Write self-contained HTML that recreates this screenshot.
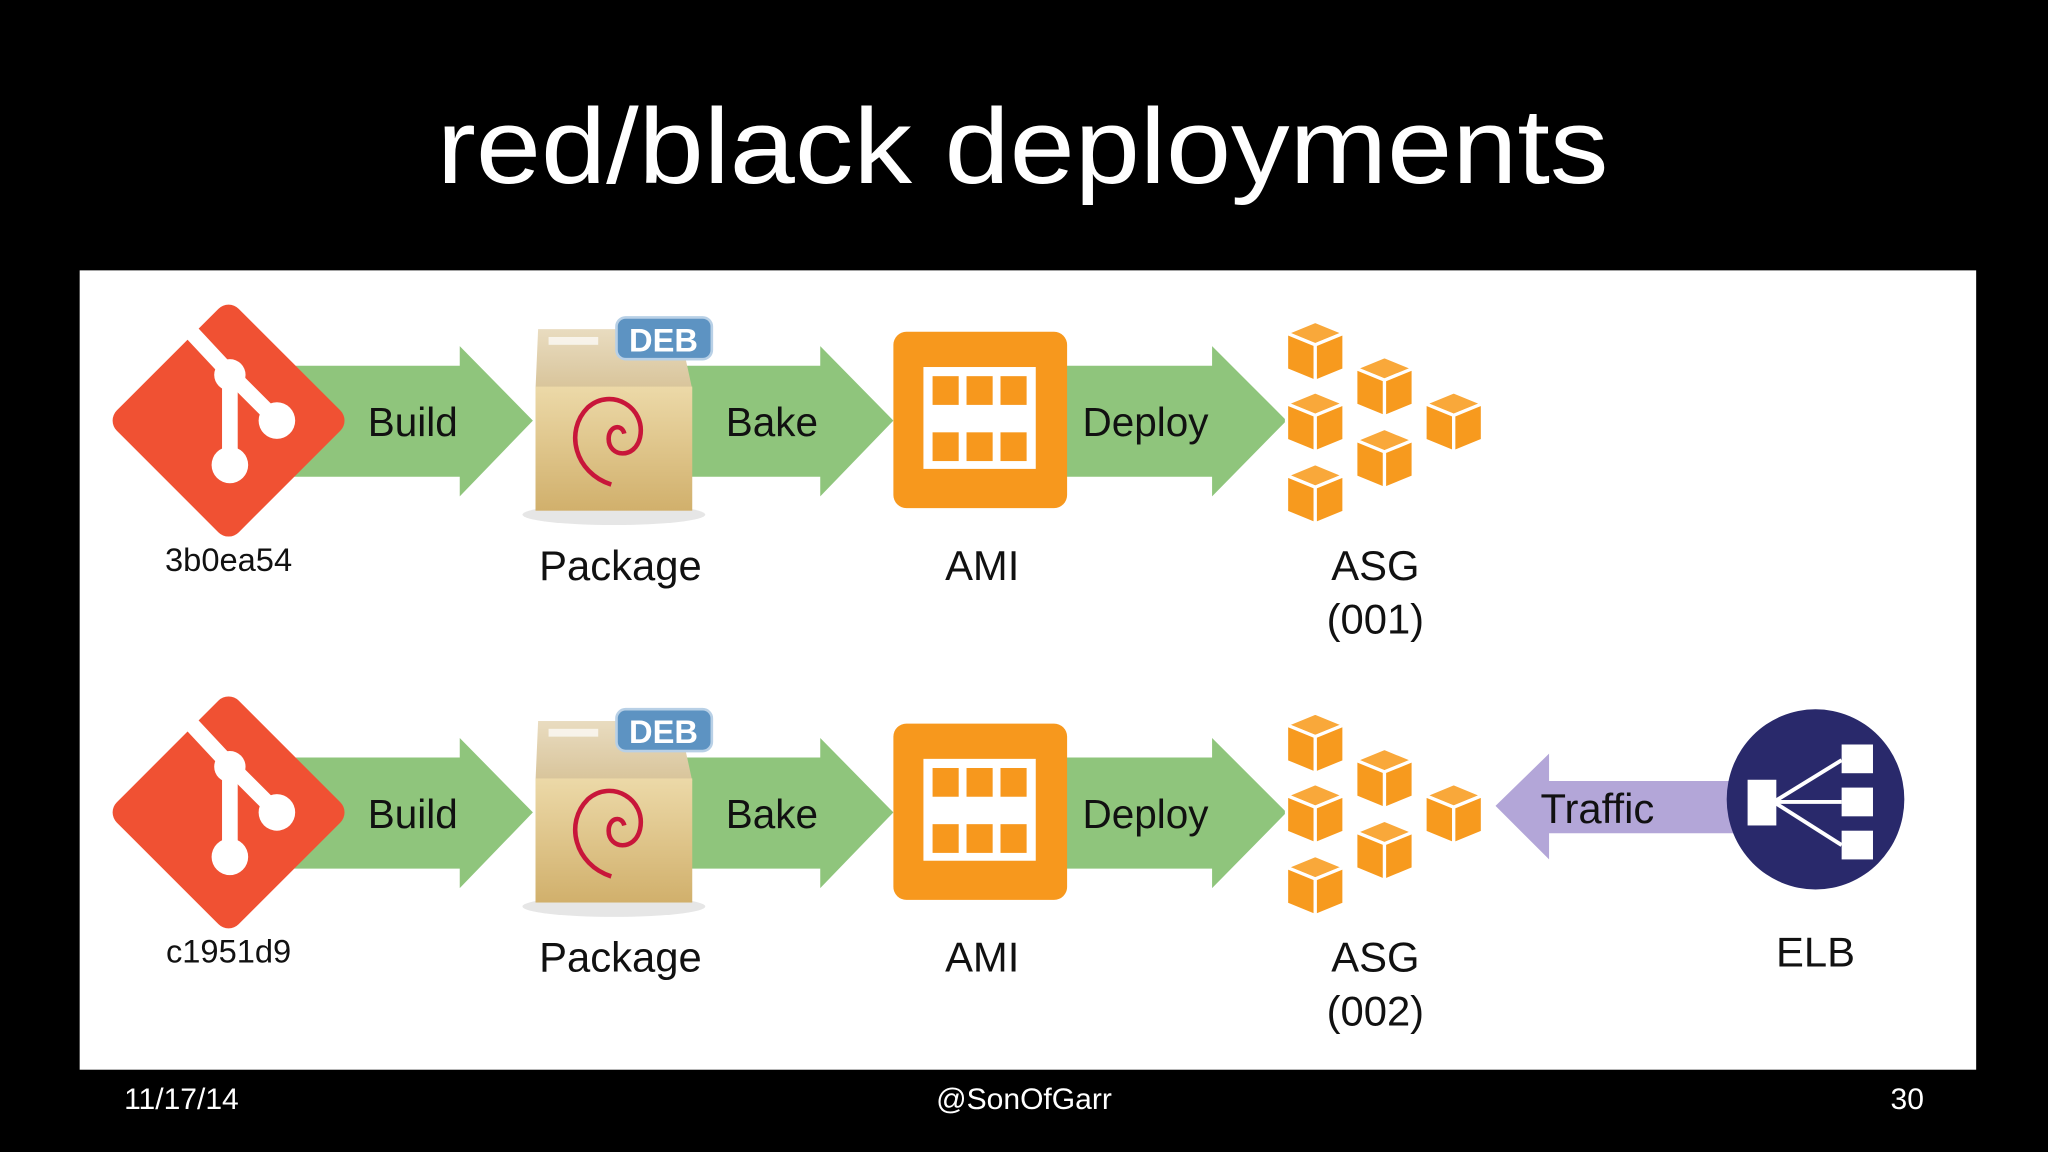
<!DOCTYPE html>
<html><head><meta charset="utf-8"><style>
html,body{margin:0;padding:0;background:#000;}
svg{display:block;}
text{font-family:"Liberation Sans",sans-serif;}
</style></head><body>
<svg width="2048" height="1152" viewBox="0 0 1568 882" xmlns="http://www.w3.org/2000/svg">
<defs>
<linearGradient id="box" x1="0" y1="0" x2="0" y2="1">
<stop offset="0" stop-color="#ecd9a8"/><stop offset="1" stop-color="#d1b06c"/></linearGradient>
<linearGradient id="boxtop" x1="0" y1="0" x2="0" y2="1">
<stop offset="0" stop-color="#e9dcc0"/><stop offset="1" stop-color="#d8c49a"/></linearGradient>
<g id="cube">
<polygon points="0,9 22,0 44,9 22,18" fill="#f9a83a" stroke="#fff" stroke-width="2.5"/>
<polygon points="0,9 22,18 22,46 0,37" fill="#f79a1e" stroke="#fff" stroke-width="2.5"/>
<polygon points="44,9 22,18 22,46 44,37" fill="#f79a1e" stroke="#fff" stroke-width="2.5"/>
</g>
<g id="row">
<polygon points="225,280 352,280 352,265 408,322 352,380 352,365 225,365" fill="#8fc57c"/>
<text x="316" y="334" font-size="31" text-anchor="middle" fill="#111">Build</text>
<rect x="109" y="256" width="132" height="132" rx="11" transform="rotate(45 175 322)" fill="#f05133"/>
<g stroke="#fff" stroke-width="12" fill="none" stroke-linecap="round">
<line x1="148" y1="256" x2="176" y2="286"/><line x1="176" y1="286" x2="176" y2="356"/><line x1="176" y1="286" x2="211" y2="321"/>
</g>
<circle cx="176" cy="287" r="12" fill="#fff"/><circle cx="212" cy="322" r="14" fill="#fff"/><circle cx="176" cy="356" r="14" fill="#fff"/>
<polygon points="525,280 628,280 628,265 684,322 628,380 628,365 525,365" fill="#8fc57c"/>
<text x="591" y="334" font-size="31" text-anchor="middle" fill="#111">Bake</text>
<ellipse cx="470" cy="394" rx="70" ry="8" fill="#e6e6e6"/>
<polygon points="412,252 520,252 530,298 410,298" fill="url(#boxtop)"/>
<rect x="410" y="296" width="120" height="95" fill="url(#box)"/>
<rect x="420" y="258" width="38" height="6" fill="#fff" opacity=".7"/>
<path d="M468,371 C440,362 432,330 450,312 C468,296 495,312 490,335 C486,352 466,350 466,336 C466,326 476,324 478,332" fill="none" stroke="#c8163a" stroke-width="3.5"/>
<rect x="472" y="243" width="73" height="32" rx="7" fill="#5d93c2" stroke="#b8d0e6" stroke-width="2"/>
<text x="508" y="269" font-size="25" font-weight="bold" text-anchor="middle" fill="#fff">DEB</text>
<polygon points="812,280 928,280 928,265 985,322 928,380 928,365 812,365" fill="#8fc57c"/>
<text x="877" y="334" font-size="31" text-anchor="middle" fill="#111">Deploy</text>
<rect x="684" y="254" width="133" height="135" rx="10" fill="#f7981d"/>
<rect x="707" y="281" width="86" height="78" fill="#fff"/>
<g fill="#f7981d">
<rect x="714" y="288" width="20" height="22"/><rect x="740" y="288" width="20" height="22"/><rect x="766" y="288" width="20" height="22"/>
<rect x="714" y="331" width="20" height="22"/><rect x="740" y="331" width="20" height="22"/><rect x="766" y="331" width="20" height="22"/>
</g>
<use href="#cube" x="985" y="246"/>
<use href="#cube" x="1038" y="273"/>
<use href="#cube" x="985" y="300"/>
<use href="#cube" x="1091" y="300"/>
<use href="#cube" x="1038" y="328"/>
<use href="#cube" x="985" y="355"/>
<text x="475" y="444" font-size="32" text-anchor="middle" fill="#111">Package</text>
<text x="752" y="444" font-size="32" text-anchor="middle" fill="#111">AMI</text>
<text x="1053" y="444" font-size="32" text-anchor="middle" fill="#111">ASG</text>
</g>
</defs>
<rect width="1568" height="882" fill="#000"/>
<text x="783" y="140" font-size="82" text-anchor="middle" fill="#fff" textLength="897" lengthAdjust="spacingAndGlyphs">red/black deployments</text>
<rect x="61" y="207" width="1452" height="612" fill="#fff"/>
<use href="#row"/>
<use href="#row" y="300"/>
<text x="175" y="437" font-size="25" text-anchor="middle" fill="#111">3b0ea54</text>
<text x="1053" y="485" font-size="32" text-anchor="middle" fill="#111">(001)</text>
<text x="175" y="737" font-size="25" text-anchor="middle" fill="#111">c1951d9</text>
<text x="1053" y="785" font-size="32" text-anchor="middle" fill="#111">(002)</text>
<polygon points="1145,617 1186,577 1186,598 1335,598 1335,638 1186,638 1186,658" fill="#b3a6d8"/>
<text x="1223" y="630" font-size="32" text-anchor="middle" fill="#111">Traffic</text>
<ellipse cx="1390" cy="612" rx="68" ry="69" fill="#29296b"/>
<g fill="#fff">
<rect x="1338" y="597" width="22" height="35"/>
<rect x="1410" y="570" width="24" height="22"/><rect x="1410" y="603" width="24" height="22"/><rect x="1410" y="636" width="24" height="22"/>
</g>
<g stroke="#fff" stroke-width="3">
<line x1="1358" y1="614" x2="1410" y2="582"/><line x1="1358" y1="614" x2="1410" y2="614"/><line x1="1358" y1="614" x2="1410" y2="647"/>
</g>
<text x="1390" y="740" font-size="32" text-anchor="middle" fill="#111">ELB</text>
<text x="95" y="849" font-size="23" fill="#fff">11/17/14</text>
<text x="784" y="849" font-size="23" text-anchor="middle" fill="#fff">@SonOfGarr</text>
<text x="1473" y="849" font-size="23" text-anchor="end" fill="#fff">30</text>
</svg>
</body></html>
